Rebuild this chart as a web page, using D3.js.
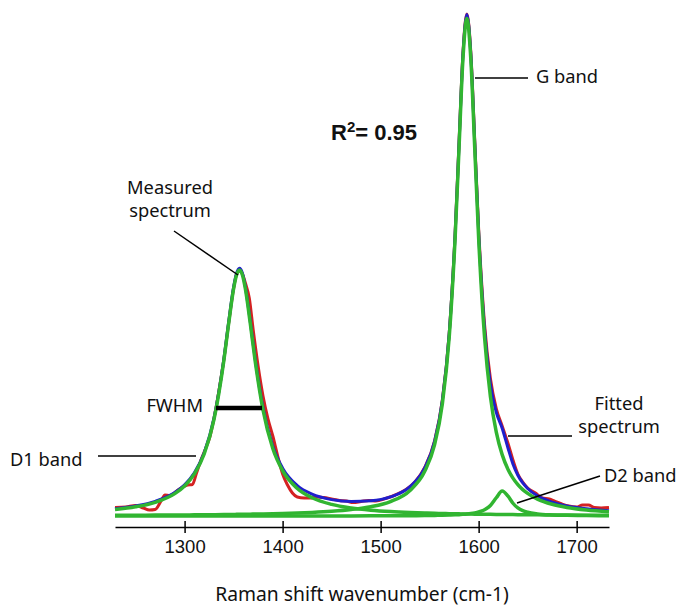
<!DOCTYPE html>
<html>
<head>
<meta charset="utf-8">
<script src="https://cdn.jsdelivr.net/npm/d3@7/dist/d3.min.js"></script>
<style>
  body { margin: 0; background: #fff; }
  .axis path, .axis line { stroke: #000; stroke-width: 1.5; }
  .axis text { font-family: "Liberation Sans", Arial, sans-serif; font-size: 18.5px; fill: #111; }
  .note { font-family: "Noto Sans", "Open Sans", sans-serif; font-size: 18.3px; fill: #111; }
  .leader { stroke: #000; stroke-width: 1.5; }
</style>
</head>
<body>
<svg id="chart" width="680" height="608"></svg>
<script>
// Raman shift (cm-1) grid used by the fitted curves
const wavenumbers = [1229,1250,1270,1290,1300,1310,1320,1330,1340,1345,1350,1353,1356,1359,1362,1367,1372,1380,1390,1400,1415,1430,1450,1470,1490,1510,1530,1545,1555,1563,1570,1576,1580,1584,1588,1592,1596,1600,1606,1612,1618,1624,1630,1635,1640,1645,1650,1660,1675,1690,1710,1733];

// fitted bands (a.u.)
const d1Band = [13.0,18.4,27.4,44.8,60.2,84.2,124.0,193.2,310.2,385.3,454.5,482.1,492,482.1,454.5,385.3,310.2,212.2,134.9,90.6,54.9,36.4,23.2,16.0,11.7,8.9,7.0,5.9,5.4,5.0,4.7,4.4,4.3,4.1,4.0,3.8,3.7,3.6,3.4,3.3,3.1,3.0,2.9,2.8,2.7,2.6,2.5,2.3,2.1,1.9,1.7,1.5];
const gBand = [1.4,1.6,1.8,2.0,2.2,2.3,2.5,2.7,2.9,3.1,3.2,3.3,3.4,3.4,3.5,3.7,3.9,4.2,4.6,5.1,6.0,7.2,9.4,12.9,18.5,28.9,51.2,89.3,142.3,224.7,358.2,555.9,736.4,914.7,995,914.7,736.4,555.9,358.2,239.1,167.6,122.7,93.1,75.8,62.8,52.8,45.1,33.8,23.4,17.1,12.0,8.6];
const d2Band = [0.0,0.0,0.1,0.1,0.1,0.1,0.1,0.1,0.1,0.1,0.1,0.1,0.1,0.1,0.1,0.1,0.1,0.1,0.1,0.1,0.1,0.2,0.2,0.2,0.3,0.4,0.6,0.9,1.2,1.5,1.9,2.3,2.7,3.3,4.0,4.9,6.2,8.0,12.5,21.1,36.5,49.9,39.6,25.5,16.1,10.7,7.5,4.2,2.2,1.3,0.8,0.5];
const fittedSpectrum = [14.4,20.0,29.3,46.9,62.5,86.6,126.6,196.0,313.2,388.5,457.8,485.5,495.5,485.6,458.1,389.1,314.2,216.5,139.6,95.8,61.0,43.8,32.8,29.1,30.5,38.2,58.8,96.1,148.9,231.2,364.8,562.6,743.4,922.1,1003.0,923.4,746.3,567.5,374.1,263.5,207.2,175.6,135.6,104.1,81.6,66.1,55.1,40.3,27.7,20.3,14.5,10.6];

// measured spectrum (a.u.)
const measuredShift = [1229,1240,1250,1258,1264,1270,1276,1280,1285,1292,1298,1303,1308,1312,1316,1320,1326,1330,1335,1340,1345,1350,1353,1356,1359,1362,1366,1370,1375,1380,1385,1390,1395,1400,1405,1410,1415,1422,1428,1435,1442,1450,1458,1465,1472,1480,1488,1495,1505,1515,1525,1535,1545,1555,1563,1570,1576,1580,1584,1588,1592,1596,1600,1606,1612,1618,1624,1630,1635,1640,1645,1650,1658,1665,1672,1678,1685,1692,1700,1706,1712,1718,1725,1733];
const measuredIntensity = [17,18,21,16,12,13,30,42,41,50,58,62,63,85,108,128,160,195,250,312,386,455,483,490,484,466,436,372,300,240,195,160,120,84,62,46,38,36,36,38,37,34,31,30,27,29,31,30,35,42,52,68,97,150,232,366,565,747,926,1004,928,752,574,384,275,215,180,145,112,84,68,56,46,36,34,29,24,20,18,22,22,17,16,17];

const xTicks = [1300, 1400, 1500, 1600, 1700];
const fwhmShift = [1332, 1379];
const fwhmLevel = 216;

const svg = d3.select("#chart");
const x = d3.scaleLinear().domain([1229, 1733]).range([115, 609]);
const y = d3.scaleLinear().domain([0, 1000]).range([516, 16]);

const colors = { measured: "#d42222", fitted: "#1f1fcc", band: "#31b531" };

/* ---------- axis ---------- */
const xAxis = d3.axisBottom(x).tickValues(xTicks).tickSizeInner(6).tickSizeOuter(0).tickFormat(d3.format("d"));
svg.append("g").attr("class", "axis").attr("transform", "translate(0,527)").call(xAxis)
  .call(g => g.selectAll(".tick line").attr("y1", -6).attr("y2", 6))
  .call(g => g.selectAll(".tick text").attr("y", 13).attr("dy", "0.71em"));

svg.append("text").attr("class", "note")
  .attr("x", 362).attr("y", 596).attr("text-anchor", "middle").attr("dominant-baseline", "middle")
  .style("font-size", "19.3px")
  .text("Raman shift wavenumber (cm-1)");

/* ---------- curves ---------- */
const line = d3.line().curve(d3.curveMonotoneX);

function drawSeries(xs, ys, color, width) {
  svg.append("path")
    .datum(xs.map((w, i) => [x(w), y(ys[i])]))
    .attr("d", line)
    .attr("fill", "none")
    .attr("stroke", color)
    .attr("stroke-width", width)
    .attr("stroke-linejoin", "round");
}

drawSeries(measuredShift, measuredIntensity, colors.measured, 3);
drawSeries(wavenumbers, fittedSpectrum, colors.fitted, 3);
drawSeries(wavenumbers, d2Band, colors.band, 3.5);
drawSeries(wavenumbers, d1Band, colors.band, 3.5);
drawSeries(wavenumbers, gBand, colors.band, 3.5);

// FWHM bar
svg.append("line")
  .attr("x1", x(fwhmShift[0])).attr("x2", x(fwhmShift[1]))
  .attr("y1", y(fwhmLevel)).attr("y2", y(fwhmLevel))
  .attr("stroke", "#000").attr("stroke-width", 4.5);

/* ---------- annotations ---------- */
const leaders = [
  [174, 231, 238, 275],
  [475, 78, 528, 78],
  [508, 436, 572, 436],
  [98, 456, 196, 456],
  [517, 503, 600, 476]
];
svg.selectAll("line.leader").data(leaders).join("line").attr("class", "leader")
  .attr("x1", d => d[0]).attr("y1", d => d[1]).attr("x2", d => d[2]).attr("y2", d => d[3]);

const notes = [
  { t: "Measured", x: 170, y: 189, a: "middle" },
  { t: "spectrum", x: 170, y: 212, a: "middle" },
  { t: "G band", x: 536, y: 78, a: "start" },
  { t: "Fitted", x: 619, y: 405, a: "middle" },
  { t: "spectrum", x: 619, y: 428, a: "middle" },
  { t: "D1 band", x: 10, y: 461, a: "start" },
  { t: "D2 band", x: 604, y: 477, a: "start" },
  { t: "FWHM", x: 203, y: 407, a: "end" }
];
svg.selectAll("text.lbl").data(notes).join("text").attr("class", "note lbl")
  .attr("x", d => d.x).attr("y", d => d.y).attr("text-anchor", d => d.a)
  .attr("dominant-baseline", "middle").text(d => d.t);

const r2 = svg.append("text")
  .attr("x", 331).attr("y", 140)
  .style("font-family", "'Liberation Sans', Arial, sans-serif")
  .style("font-weight", "bold").style("font-size", "22px").attr("fill", "#111");
r2.append("tspan").text("R");
r2.append("tspan").attr("dy", -8).style("font-size", "15px").text("2");
r2.append("tspan").attr("dy", 8).text("= 0.95");
</script>
</body>
</html>
